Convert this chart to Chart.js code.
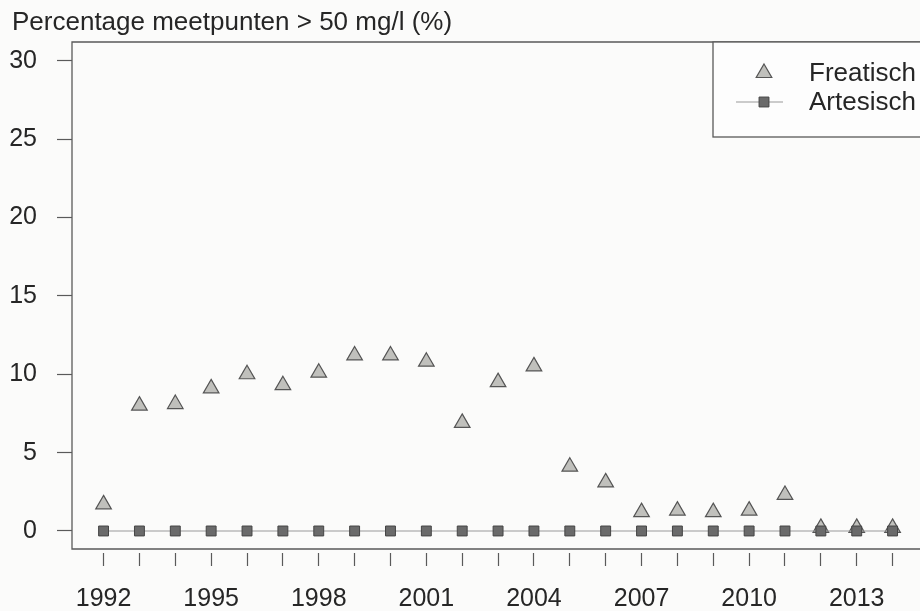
<!DOCTYPE html>
<html>
<head>
<meta charset="utf-8">
<script src="https://cdn.jsdelivr.net/npm/chart.js@4"></script>
<style>
  html, body { margin: 0; background: #fbfbfa; }
  #wrap { width: 920px; height: 611px; }
</style>
</head>
<body>
<div id="wrap"><canvas id="myChart"></canvas></div>
<script>
"use strict";

const years = [1992, 1993, 1994, 1995, 1996, 1997, 1998, 1999, 2000, 2001, 2002, 2003,
    2004, 2005, 2006, 2007, 2008, 2009, 2010, 2011, 2012, 2013, 2014];
const freatisch = [1.7, 8.0, 8.1, 9.1, 10.0, 9.3, 10.1, 11.2, 11.2, 10.8, 6.9, 9.5,
    10.5, 4.1, 3.1, 1.2, 1.3, 1.2, 1.3, 2.3, 0.2, 0.2, 0.2];
const artesisch = [0, 0, 0, 0, 0, 0, 0, 0, 0, 0, 0, 0,
    0, 0, 0, 0, 0, 0, 0, 0, 0, 0, 0];
const yTicks = [0, 5, 10, 15, 20, 25, 30];
const yTitle = "Percentage meetpunten > 50 mg/l (%)";

const font = "'Liberation Sans', Arial, sans-serif";
const ink = "#262626";
const axisColor = "#5a5a5a";

function points(values) {
    return years.map(function (year, i) {
        return { x: year, y: values[i] };
    });
}

// frame, title and legend in the style of an R base plot
const framePlugin = {
    id: "frame",
    afterDraw: function (chart) {
        const ctx = chart.ctx;
        const a = chart.chartArea;
        ctx.save();
        ctx.strokeStyle = axisColor;
        ctx.lineWidth = 1.3;
        ctx.beginPath();
        ctx.moveTo(chart.width + 5, a.top);
        ctx.lineTo(a.left, a.top);
        ctx.lineTo(a.left, a.bottom);
        ctx.lineTo(chart.width + 5, a.bottom);
        ctx.stroke();

        ctx.fillStyle = ink;
        ctx.font = "26px " + font;
        ctx.textBaseline = "middle";
        ctx.textAlign = "left";
        ctx.fillText(yTitle, 12, 23);

        // legend box
        const lx = 713, ly = a.top, lh = 95;
        ctx.fillStyle = "#fdfdfd";
        ctx.fillRect(lx, ly, chart.width - lx + 5, lh);
        ctx.strokeRect(lx, ly, chart.width - lx + 5, lh);

        const sets = chart.data.datasets;
        const rows = [
            { ds: sets[1], y: ly + 31, line: false },
            { ds: sets[0], y: ly + 60, line: true }
        ];
        rows.forEach(function (row) {
            const ds = row.ds;
            if (row.line) {
                ctx.strokeStyle = ds.borderColor;
                ctx.lineWidth = ds.borderWidth;
                ctx.beginPath();
                ctx.moveTo(736, row.y);
                ctx.lineTo(783, row.y);
                ctx.stroke();
            }
            ctx.fillStyle = ds.pointBackgroundColor;
            ctx.strokeStyle = ds.pointBorderColor;
            ctx.lineWidth = ds.pointBorderWidth;
            Chart.helpers.drawPoint(ctx, {
                pointStyle: ds.pointStyle,
                radius: ds.pointRadius,
                rotation: 0,
                borderWidth: ds.pointBorderWidth
            }, 764, row.y);
            ctx.fillStyle = ink;
            ctx.font = "26px " + font;
            ctx.textAlign = "left";
            ctx.textBaseline = "middle";
            ctx.fillText(ds.label, 809, row.y + 1);
        });
        ctx.restore();
    }
};

const ctx = document.getElementById("myChart");
const chart = new Chart(ctx, {
    type: "scatter",
    data: {
        datasets: [{
            label: "Artesisch",
            data: points(artesisch),
            showLine: true,
            borderColor: "#9a9a9a",
            borderWidth: 1.2,
            pointStyle: "rect",
            pointRadius: 7,
            pointBackgroundColor: "#6a6a6a",
            pointBorderColor: "#454545",
            pointBorderWidth: 1
        }, {
            label: "Freatisch",
            data: points(freatisch),
            showLine: false,
            pointStyle: "triangle",
            pointRadius: 9,
            pointBackgroundColor: "#c0c0bc",
            pointBorderColor: "#555555",
            pointBorderWidth: 1.2
        }]
    },
    options: {
        responsive: true,
        maintainAspectRatio: false,
        animation: false,
        layout: { padding: { top: 42, left: 8, right: 0, bottom: 0 } },
        plugins: {
            legend: { display: false },
            tooltip: { enabled: false }
        },
        scales: {
            x: {
                type: "linear",
                min: 1991.12,
                max: 2014.48,
                afterBuildTicks: function (scale) {
                    scale.ticks = years.map(function (y) { return { value: y }; });
                },
                afterFit: function (scale) { scale.height = 62; },
                border: { display: false },
                grid: {
                    drawOnChartArea: false,
                    drawTicks: true,
                    tickLength: 17,
                    tickColor: axisColor,
                    tickWidth: 1.2,
                    tickBorderDash: [0, 4, 13, 100]
                },
                ticks: {
                    autoSkip: false,
                    maxRotation: 0,
                    padding: 18,
                    color: ink,
                    font: { family: font, size: 25 },
                    callback: function (value) {
                        return (value - 1992) % 3 === 0 ? String(value) : "";
                    }
                }
            },
            y: {
                min: -1.15,
                max: 31.2,
                afterBuildTicks: function (scale) {
                    scale.ticks = yTicks.map(function (v) { return { value: v }; });
                },
                afterFit: function (scale) { scale.width = 64; },
                border: { display: false },
                grid: {
                    drawOnChartArea: false,
                    drawTicks: true,
                    tickLength: 15,
                    tickColor: axisColor,
                    tickWidth: 1.2
                },
                ticks: {
                    padding: 20,
                    color: ink,
                    font: { family: font, size: 25 }
                }
            }
        }
    },
    plugins: [framePlugin]
});
</script>
</body>
</html>
